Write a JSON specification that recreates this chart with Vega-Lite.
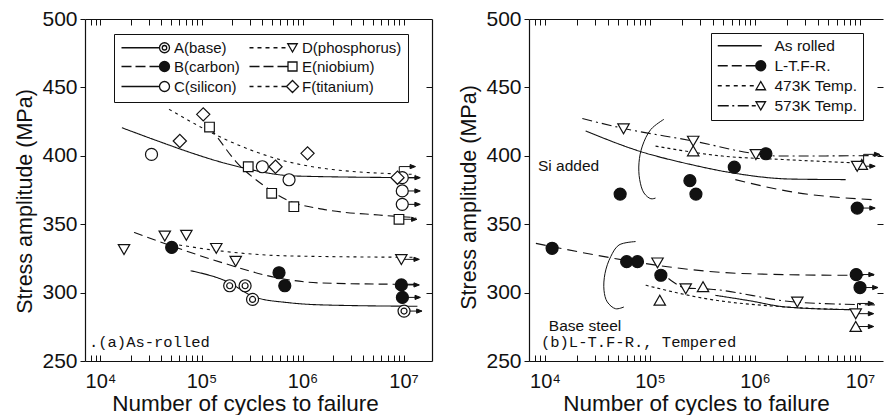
{
  "$schema": "https://vega.github.io/schema/vega-lite/v6.json",
  "padding": {"left": 14, "top": 8, "right": 0, "bottom": 0},
  "spacing": 25,
  "config": {
    "view": {"stroke": null},
    "font": "Liberation Sans",
    "axis": {"domainColor": "#111", "domainWidth": 1.2, "tickColor": "#111", "tickWidth": 1, "labelColor": "#111", "titleColor": "#111", "labelFont": "Liberation Sans", "titleFont": "Liberation Sans", "labelFontSize": 21, "titleFontSize": 21.5, "titleFontWeight": "normal", "grid": false, "labelFlush": false, "labelOverlap": false}
  },
  "resolve": {"scale": {"shape": "independent", "fill": "independent", "strokeDash": "independent"}},
  "datasets": {
    "L_lines": [
      {"s": "A", "c": "A", "n": 78000, "v": 316}, {"s": "A", "c": "A", "n": 174000, "v": 308.5}, {"s": "A", "c": "A", "n": 344000, "v": 296.5}, {"s": "A", "c": "A", "n": 735000, "v": 292.6}, {"s": "A", "c": "A", "n": 1570000, "v": 291}, {"s": "A", "c": "A", "n": 13700000, "v": 290},
      {"s": "B", "c": "B", "n": 21500, "v": 344}, {"s": "B", "c": "B", "n": 51000, "v": 334}, {"s": "B", "c": "B", "n": 175000, "v": 321}, {"s": "B", "c": "B", "n": 547000, "v": 311}, {"s": "B", "c": "B", "n": 1560000, "v": 307}, {"s": "B", "c": "B", "n": 13300000, "v": 306},
      {"s": "C", "c": "C", "n": 16300, "v": 420.5}, {"s": "C", "c": "C", "n": 45500, "v": 408.4}, {"s": "C", "c": "C", "n": 70000, "v": 403.5}, {"s": "C", "c": "C", "n": 187000, "v": 393.8}, {"s": "C", "c": "C", "n": 860000, "v": 385.2}, {"s": "C", "c": "C", "n": 13300000, "v": 384},
      {"s": "D", "c": "D", "n": 60000, "v": 334.8}, {"s": "D", "c": "D", "n": 160000, "v": 330.3}, {"s": "D", "c": "D", "n": 735000, "v": 326.8}, {"s": "D", "c": "D", "n": 13200000, "v": 325.8},
      {"s": "E", "c": "E", "n": 120000, "v": 421}, {"s": "E", "c": "E", "n": 133000, "v": 416.8}, {"s": "E", "c": "E", "n": 218000, "v": 396}, {"s": "E", "c": "E", "n": 400000, "v": 379}, {"s": "E", "c": "E", "n": 735000, "v": 367}, {"s": "E", "c": "E", "n": 1570000, "v": 361}, {"s": "E", "c": "E", "n": 5700000, "v": 356.7}, {"s": "E", "c": "E", "n": 13300000, "v": 354.8},
      {"s": "F", "c": "F", "n": 47700, "v": 434}, {"s": "F", "c": "F", "n": 187000, "v": 410.8}, {"s": "F", "c": "F", "n": 630000, "v": 396.7}, {"s": "F", "c": "F", "n": 1970000, "v": 390}, {"s": "F", "c": "F", "n": 13200000, "v": 386.4}
    ],
    "L_pts": [
      {"s": "A", "n": 190000, "v": 305}, {"s": "A", "n": 270000, "v": 305}, {"s": "A", "n": 320000, "v": 295}, {"s": "A", "n": 10100000, "v": 286.5},
      {"s": "B", "n": 50700, "v": 333}, {"s": "B", "n": 585000, "v": 314.5}, {"s": "B", "n": 667000, "v": 305}, {"s": "B", "n": 9500000, "v": 305.6}, {"s": "B", "n": 9730000, "v": 296.5},
      {"s": "C", "n": 32000, "v": 401}, {"s": "C", "n": 400000, "v": 392}, {"s": "C", "n": 735000, "v": 382.5}, {"s": "C", "n": 9700000, "v": 384}, {"s": "C", "n": 9700000, "v": 374.3}, {"s": "C", "n": 9700000, "v": 364.5},
      {"s": "D", "n": 17100, "v": 331.6}, {"s": "D", "n": 43300, "v": 341.4}, {"s": "D", "n": 70800, "v": 342}, {"s": "D", "n": 140000, "v": 332.4}, {"s": "D", "n": 218000, "v": 323}, {"s": "D", "n": 9500000, "v": 324.3},
      {"s": "E", "n": 120000, "v": 421}, {"s": "E", "n": 290000, "v": 392}, {"s": "E", "n": 495000, "v": 372.6}, {"s": "E", "n": 820000, "v": 362.8}, {"s": "E", "n": 9000000, "v": 353.6},
      {"s": "F", "n": 104000, "v": 430.3}, {"s": "F", "n": 61000, "v": 410.8}, {"s": "F", "n": 540000, "v": 392}, {"s": "F", "n": 1120000, "v": 401.8}, {"s": "F", "n": 8700000, "v": 384}
    ],
    "L_arrows": [
      {"k": "s", "n": 9700000, "v": 384}, {"k": "s", "n": 9700000, "v": 374.3}, {"k": "s", "n": 9700000, "v": 364.5}, {"k": "s", "n": 9000000, "v": 353.6}, {"k": "s", "n": 9500000, "v": 324.3}, {"k": "s", "n": 9500000, "v": 305.6}, {"k": "s", "n": 9730000, "v": 296.5}, {"k": "s", "n": 10100000, "v": 286.5},
      {"k": "b", "n": 8700000, "v": 384}
    ],
    "L_text": [{"t": ".(a)As-rolled", "n": 7690, "v": 260.2}],
    "R_lines": [
      {"s": "AR", "c": "AR1", "n": 24400, "v": 418.2}, {"s": "AR", "c": "AR1", "n": 78500, "v": 403.5}, {"s": "AR", "c": "AR1", "n": 246000, "v": 393.6}, {"s": "AR", "c": "AR1", "n": 610000, "v": 387.5}, {"s": "AR", "c": "AR1", "n": 2200000, "v": 383}, {"s": "AR", "c": "AR1", "n": 7300000, "v": 382.6},
      {"s": "AR", "c": "AR2", "n": 420000, "v": 298}, {"s": "AR", "c": "AR2", "n": 880000, "v": 294.1}, {"s": "AR", "c": "AR2", "n": 1960000, "v": 289.5}, {"s": "AR", "c": "AR2", "n": 7900000, "v": 287.5},
      {"s": "LT", "c": "LT1", "n": 650000, "v": 382.6}, {"s": "LT", "c": "LT1", "n": 2100000, "v": 374}, {"s": "LT", "c": "LT1", "n": 13100000, "v": 367.9},
      {"s": "LT", "c": "LT2", "n": 8200, "v": 336}, {"s": "LT", "c": "LT2", "n": 45700, "v": 325}, {"s": "LT", "c": "LT2", "n": 147000, "v": 318.9}, {"s": "LT", "c": "LT2", "n": 740000, "v": 314}, {"s": "LT", "c": "LT2", "n": 6600000, "v": 312.7}, {"s": "LT", "c": "LT2", "n": 13600000, "v": 312.7},
      {"s": "T473", "c": "T4731", "n": 113000, "v": 407.1}, {"s": "T473", "c": "T4731", "n": 490000, "v": 399.8}, {"s": "T473", "c": "T4731", "n": 1820000, "v": 397.3}, {"s": "T473", "c": "T4731", "n": 8500000, "v": 394.9},
      {"s": "T473", "c": "T4732", "n": 91000, "v": 305.4}, {"s": "T473", "c": "T4732", "n": 339000, "v": 295.6}, {"s": "T473", "c": "T4732", "n": 1950000, "v": 289.5}, {"s": "T473", "c": "T4732", "n": 8500000, "v": 287.5},
      {"s": "T573", "c": "T5731", "n": 22700, "v": 427.2}, {"s": "T573", "c": "T5731", "n": 56000, "v": 420}, {"s": "T573", "c": "T5731", "n": 258000, "v": 410.8}, {"s": "T573", "c": "T5731", "n": 1020000, "v": 401.5}, {"s": "T573", "c": "T5731", "n": 1700000, "v": 399.8}, {"s": "T573", "c": "T5731", "n": 16000000, "v": 400.2},
      {"s": "T573", "c": "T5732", "n": 150000, "v": 310.3}, {"s": "T573", "c": "T5732", "n": 219000, "v": 303.5}, {"s": "T573", "c": "T5732", "n": 380000, "v": 302.5}, {"s": "T573", "c": "T5732", "n": 2500000, "v": 293}, {"s": "T573", "c": "T5732", "n": 15000000, "v": 291}
    ],
    "R_arcs": [
      {"c": "a1", "o": 1, "n": 136000, "v": 426.7}, {"c": "a1", "o": 2, "n": 102000, "v": 419.3}, {"c": "a1", "o": 3, "n": 84600, "v": 407.1}, {"c": "a1", "o": 4, "n": 78600, "v": 394.9}, {"c": "a1", "o": 5, "n": 79800, "v": 382.6}, {"c": "a1", "o": 6, "n": 87700, "v": 372.8}, {"c": "a1", "o": 7, "n": 102000, "v": 368.6}, {"c": "a1", "o": 8, "n": 113000, "v": 369.1},
      {"c": "a2", "o": 1, "n": 73000, "v": 337.3}, {"c": "a2", "o": 2, "n": 50700, "v": 334.8}, {"c": "a2", "o": 3, "n": 42300, "v": 326.3}, {"c": "a2", "o": 4, "n": 37300, "v": 314}, {"c": "a2", "o": 5, "n": 36500, "v": 301.7}, {"c": "a2", "o": 6, "n": 39200, "v": 293.2}, {"c": "a2", "o": 7, "n": 47100, "v": 288.2}, {"c": "a2", "o": 8, "n": 56500, "v": 289.5}
    ],
    "R_pts": [
      {"s": "LT", "n": 52000, "v": 372}, {"s": "LT", "n": 240000, "v": 381.8}, {"s": "LT", "n": 274000, "v": 372}, {"s": "LT", "n": 635000, "v": 391.7}, {"s": "LT", "n": 1270000, "v": 401.5}, {"s": "LT", "n": 9400000, "v": 361.8},
      {"s": "LT", "n": 11700, "v": 332.4}, {"s": "LT", "n": 60000, "v": 322.6}, {"s": "LT", "n": 76000, "v": 322.6}, {"s": "LT", "n": 127000, "v": 312.7}, {"s": "LT", "n": 9200000, "v": 313.2}, {"s": "LT", "n": 10000000, "v": 303.7},
      {"s": "T473", "n": 258000, "v": 403.5}, {"s": "T473", "n": 10400000, "v": 393.6}, {"s": "T473", "n": 124000, "v": 294.3}, {"s": "T473", "n": 320000, "v": 304.2}, {"s": "T473", "n": 9100000, "v": 275.2},
      {"s": "T573", "n": 56000, "v": 419.9}, {"s": "T573", "n": 258000, "v": 410.8}, {"s": "T573", "n": 1020000, "v": 401}, {"s": "T573", "n": 9400000, "v": 392.4}, {"s": "T573", "n": 118000, "v": 321.8}, {"s": "T573", "n": 219000, "v": 302.9}, {"s": "T573", "n": 2530000, "v": 293.2}, {"s": "T573", "n": 9100000, "v": 284.6}
    ],
    "R_arrows": [
      {"k": "s", "n": 9400000, "v": 392.4}, {"k": "s", "n": 9400000, "v": 361.8}, {"k": "s", "n": 9200000, "v": 313.2}, {"k": "s", "n": 10000000, "v": 303.7}, {"k": "s", "n": 9100000, "v": 284.6}, {"k": "s", "n": 9100000, "v": 275.2},
      {"k": "b", "n": 10400000, "v": 393.6}, {"k": "b", "n": 9100000, "v": 284.6}
    ],
    "R_text_mono": [{"t": "(b)L-T.F-R.,  Tempered", "n": 9160, "v": 260.3}],
    "R_text_sans": [{"t": "Si added", "n": 8580, "v": 392.6}, {"t": "Base steel", "n": 10900, "v": 275.7}]
  },
  "hconcat": [
    {
      "width": 347,
      "height": 342,
      "resolve": {"scale": {"shape": "independent", "fill": "independent"}, "axis": {"x": "independent", "y": "independent"}},
      "layer": [
        {
          "data": {"name": "L_lines"},
          "mark": {"type": "line", "interpolate": "monotone", "stroke": "#111", "strokeWidth": 1.1},
          "encoding": {
            "x": {"field": "n", "type": "quantitative", "scale": {"type": "log", "domain": [7030, 19100000], "nice": false},
              "axis": {"title": "Number of cycles to failure", "titleFontSize": 22.5, "labelFontSize": 20, "titlePadding": 1, "titleX": 160, "tickSize": -6, "labelPadding": 16,
                "values": [8000, 9000, 10000, 20000, 30000, 40000, 50000, 60000, 70000, 80000, 90000, 100000, 200000, 300000, 400000, 500000, 600000, 700000, 800000, 900000, 1000000, 2000000, 3000000, 4000000, 5000000, 6000000, 7000000, 8000000, 9000000, 10000000],
                "labelExpr": "datum.value == 10000 ? '10⁴' : datum.value == 100000 ? '10⁵' : datum.value == 1000000 ? '10⁶' : datum.value == 10000000 ? '10⁷' : ''"}},
            "y": {"field": "v", "type": "quantitative", "scale": {"domain": [250, 500], "nice": false, "zero": false},
              "axis": {"title": "Stress amplitude (MPa)", "titleY": 182, "values": [250, 300, 350, 400, 450, 500], "tickSize": 5, "labelPadding": 3, "titlePadding": 5}},
            "strokeDash": {"field": "s", "type": "nominal", "legend": null, "scale": {"domain": ["A", "B", "C", "D", "E", "F"], "range": [[1, 0], [9, 5], [1, 0], [3, 4], [9, 5], [3, 4]]}},
            "detail": {"field": "c"}
          }
        },
        {
          "data": {"name": "L_arrows"},
          "transform": [{"filter": "datum.k == 's'"}],
          "mark": {"type": "point", "shape": "M0,0 H2.75 M3,0 L2.1,-0.35 L2.1,0.35 Z", "size": 144, "filled": true, "fill": "#111", "stroke": "#111", "strokeWidth": 1, "opacity": 1},
          "encoding": {
            "x": {"field": "n", "type": "quantitative", "scale": {"type": "log", "domain": [7030, 19100000], "nice": false}, "axis": null},
            "y": {"field": "v", "type": "quantitative", "scale": {"domain": [250, 500], "nice": false, "zero": false}, "axis": null}
          }
        },
        {
          "data": {"name": "L_arrows"},
          "transform": [{"filter": "datum.k == 'b'"}],
          "mark": {"type": "point", "shape": "M0.3,0 V-1.85 M0.3,-1.85 H2.75 M3,-1.85 L2.1,-2.2 L2.1,-1.5 Z", "size": 144, "filled": true, "fill": "#111", "stroke": "#111", "strokeWidth": 1, "opacity": 1},
          "encoding": {
            "x": {"field": "n", "type": "quantitative", "scale": {"type": "log", "domain": [7030, 19100000], "nice": false}, "axis": null},
            "y": {"field": "v", "type": "quantitative", "scale": {"domain": [250, 500], "nice": false, "zero": false}, "axis": null}
          }
        },
        {
          "data": {"name": "L_pts"},
          "mark": {"type": "point", "size": 144, "filled": true, "stroke": "#111", "strokeWidth": 1.2, "opacity": 1},
          "encoding": {
            "x": {"field": "n", "type": "quantitative", "scale": {"type": "log", "domain": [7030, 19100000], "nice": false},
              "axis": {"orient": "top", "title": null, "labels": false, "tickSize": -6, "values": [8000, 9000, 10000, 20000, 30000, 40000, 50000, 60000, 70000, 80000, 90000, 100000, 200000, 300000, 400000, 500000, 600000, 700000, 800000, 900000, 1000000, 2000000, 3000000, 4000000, 5000000, 6000000, 7000000, 8000000, 9000000, 10000000]}},
            "y": {"field": "v", "type": "quantitative", "scale": {"domain": [250, 500], "nice": false, "zero": false},
              "axis": {"orient": "right", "title": null, "labels": false, "tickSize": -6, "values": [300, 350, 400, 450]}},
            "shape": {"field": "s", "type": "nominal", "legend": null, "scale": {"domain": ["A", "B", "C", "D", "E", "F"], "range": [
              "M1,0 A1,1 0 1,1 -1,0 A1,1 0 1,1 1,0 Z M0.5,0 A0.5,0.5 0 1,1 -0.5,0 A0.5,0.5 0 1,1 0.5,0 Z",
              "M1,0 A1,1 0 1,1 -1,0 A1,1 0 1,1 1,0 Z",
              "M1,0 A1,1 0 1,1 -1,0 A1,1 0 1,1 1,0 Z",
              "M-0.95,-0.8 L0.95,-0.8 L0,0.85 Z",
              "M-0.8,-0.8 H0.8 V0.8 H-0.8 Z",
              "M-1.1,0 L0,-1.1 L1.1,0 L0,1.1 Z"]}},
            "fill": {"field": "s", "type": "nominal", "legend": null, "scale": {"domain": ["A", "B", "C", "D", "E", "F"], "range": ["white", "#111", "white", "white", "white", "white"]}}
          }
        },
        {
          "data": {"name": "L_text"},
          "mark": {"type": "text", "font": "Liberation Mono", "fontSize": 15.5, "align": "left", "baseline": "alphabetic", "color": "#111"},
          "encoding": {
            "x": {"field": "n", "type": "quantitative", "scale": {"type": "log", "domain": [7030, 19100000], "nice": false}, "axis": null},
            "y": {"field": "v", "type": "quantitative", "scale": {"domain": [250, 500], "nice": false, "zero": false}, "axis": null},
            "text": {"field": "t"}
          }
        },
        {
          "data": {"values": []},
          "mark": {"type": "point", "filled": false, "color": "#111", "strokeWidth": 1.3, "opacity": 1},
          "encoding": {
            "shape": {"field": "lg", "type": "nominal",
              "scale": {"domain": ["A(base)", "B(carbon)", "C(silicon)", "D(phosphorus)", "E(niobium)", "F(titanium)"], "range": [
                "M-1.2,0 H6.4 M8.4,0 A1,1 0 1,1 6.4,0 A1,1 0 1,1 8.4,0 Z M7.85,0 A0.45,0.45 0 1,1 6.95,0 A0.45,0.45 0 1,1 7.85,0 Z",
                "M-1.2,0 H0.8 M1.6,0 H3.6 M4.4,0 H6.4 M8.4,0 A1,1 0 1,1 6.4,0 A1,1 0 1,1 8.4,0 Z M8.18,0 A0.78,0.78 0 1,1 6.62,0 A0.78,0.78 0 1,1 8.18,0 Z M7.96,0 A0.56,0.56 0 1,1 6.84,0 A0.56,0.56 0 1,1 7.96,0 Z M7.74,0 A0.34,0.34 0 1,1 7.06,0 A0.34,0.34 0 1,1 7.74,0 Z M7.54,0 A0.14,0.14 0 1,1 7.26,0 A0.14,0.14 0 1,1 7.54,0 Z",
                "M-1.2,0 H6.4 M8.4,0 A1,1 0 1,1 6.4,0 A1,1 0 1,1 8.4,0 Z",
                "M-1.2,0 H-0.4 M0.4,0 H1.2 M2,0 H2.8 M3.6,0 H4.4 M5.2,0 H6 M6.45,-0.8 L8.35,-0.8 L7.4,0.85 Z",
                "M-1.2,0 H0.8 M1.6,0 H3.6 M4.4,0 H6.5 M6.5,-0.9 H8.3 V0.9 H6.5 Z",
                "M-1.2,0 H-0.4 M0.4,0 H1.2 M2,0 H2.8 M3.6,0 H4.4 M5.2,0 H6.2 M6.2,0 L7.4,-1.2 L8.6,0 L7.4,1.2 Z"]},
              "legend": {"orient": "none", "legendX": 29, "legendY": 15, "columns": 2, "columnPadding": 6, "rowPadding": 2, "padding": 6, "title": null, "symbolSize": 100, "symbolStrokeWidth": 1.3, "symbolStrokeColor": "#111", "symbolOpacity": 1, "labelOffset": 39, "labelFontSize": 15, "labelFont": "Liberation Sans", "labelColor": "#111", "strokeColor": "#111", "fillColor": "white"}}
          }
        }
      ]
    },
    {
      "width": 354,
      "height": 342,
      "resolve": {"scale": {"shape": "independent", "fill": "independent"}, "axis": {"x": "independent", "y": "independent"}},
      "layer": [
        {
          "data": {"name": "R_lines"},
          "mark": {"type": "line", "interpolate": "monotone", "stroke": "#111", "strokeWidth": 1.1},
          "encoding": {
            "x": {"field": "n", "type": "quantitative", "scale": {"type": "log", "domain": [7050, 16550000], "nice": false},
              "axis": {"title": "Number of cycles to failure", "titleFontSize": 22.5, "labelFontSize": 20, "titlePadding": 1, "titleX": 167, "tickSize": -6, "labelPadding": 16,
                "values": [8000, 9000, 10000, 20000, 30000, 40000, 50000, 60000, 70000, 80000, 90000, 100000, 200000, 300000, 400000, 500000, 600000, 700000, 800000, 900000, 1000000, 2000000, 3000000, 4000000, 5000000, 6000000, 7000000, 8000000, 9000000, 10000000],
                "labelExpr": "datum.value == 10000 ? '10⁴' : datum.value == 100000 ? '10⁵' : datum.value == 1000000 ? '10⁶' : datum.value == 10000000 ? '10⁷' : ''"}},
            "y": {"field": "v", "type": "quantitative", "scale": {"domain": [250, 500], "nice": false, "zero": false},
              "axis": {"title": "Stress amplitude (MPa)", "titleY": 178, "values": [250, 300, 350, 400, 450, 500], "tickSize": 5, "labelPadding": 3, "titlePadding": 5}},
            "strokeDash": {"field": "s", "type": "nominal", "legend": null, "scale": {"domain": ["AR", "LT", "T473", "T573"], "range": [[1, 0], [10, 6], [3, 3], [10, 4, 2, 4]]}},
            "detail": {"field": "c"}
          }
        },
        {
          "data": {"name": "R_arcs"},
          "mark": {"type": "line", "interpolate": "catmull-rom", "stroke": "#111", "strokeWidth": 1},
          "encoding": {
            "x": {"field": "n", "type": "quantitative", "scale": {"type": "log", "domain": [7050, 16550000], "nice": false}, "axis": null},
            "y": {"field": "v", "type": "quantitative", "scale": {"domain": [250, 500], "nice": false, "zero": false}, "axis": null},
            "order": {"field": "o", "type": "quantitative"},
            "detail": {"field": "c"}
          }
        },
        {
          "data": {"name": "R_arrows"},
          "transform": [{"filter": "datum.k == 's'"}],
          "mark": {"type": "point", "shape": "M0,0 H2.75 M3,0 L2.1,-0.35 L2.1,0.35 Z", "size": 144, "filled": true, "fill": "#111", "stroke": "#111", "strokeWidth": 1, "opacity": 1},
          "encoding": {
            "x": {"field": "n", "type": "quantitative", "scale": {"type": "log", "domain": [7050, 16550000], "nice": false}, "axis": null},
            "y": {"field": "v", "type": "quantitative", "scale": {"domain": [250, 500], "nice": false, "zero": false}, "axis": null}
          }
        },
        {
          "data": {"name": "R_arrows"},
          "transform": [{"filter": "datum.k == 'b'"}],
          "mark": {"type": "point", "shape": "M0.3,0 V-1.7 M0.3,-1.7 H2.75 M3,-1.7 L2.1,-2.05 L2.1,-1.35 Z", "size": 144, "filled": true, "fill": "#111", "stroke": "#111", "strokeWidth": 1, "opacity": 1},
          "encoding": {
            "x": {"field": "n", "type": "quantitative", "scale": {"type": "log", "domain": [7050, 16550000], "nice": false}, "axis": null},
            "y": {"field": "v", "type": "quantitative", "scale": {"domain": [250, 500], "nice": false, "zero": false}, "axis": null}
          }
        },
        {
          "data": {"name": "R_pts"},
          "mark": {"type": "point", "size": 144, "filled": true, "stroke": "#111", "strokeWidth": 1.2, "opacity": 1},
          "encoding": {
            "x": {"field": "n", "type": "quantitative", "scale": {"type": "log", "domain": [7050, 16550000], "nice": false},
              "axis": {"orient": "top", "title": null, "labels": false, "tickSize": -6, "values": [8000, 9000, 10000, 20000, 30000, 40000, 50000, 60000, 70000, 80000, 90000, 100000, 200000, 300000, 400000, 500000, 600000, 700000, 800000, 900000, 1000000, 2000000, 3000000, 4000000, 5000000, 6000000, 7000000, 8000000, 9000000, 10000000]}},
            "y": {"field": "v", "type": "quantitative", "scale": {"domain": [250, 500], "nice": false, "zero": false},
              "axis": {"orient": "right", "title": null, "labels": false, "domain": false, "tickSize": -6, "values": [300, 350, 400, 450]}},
            "shape": {"field": "s", "type": "nominal", "legend": null, "scale": {"domain": ["LT", "T473", "T573"], "range": [
              "M1,0 A1,1 0 1,1 -1,0 A1,1 0 1,1 1,0 Z",
              "M-0.95,0.8 L0.95,0.8 L0,-0.85 Z",
              "M-0.95,-0.8 L0.95,-0.8 L0,0.85 Z"]}},
            "fill": {"field": "s", "type": "nominal", "legend": null, "scale": {"domain": ["LT", "T473", "T573"], "range": ["#111", "white", "white"]}}
          }
        },
        {
          "data": {"name": "R_text_mono"},
          "mark": {"type": "text", "font": "Liberation Mono", "fontSize": 15.5, "align": "left", "baseline": "alphabetic", "color": "#111"},
          "encoding": {
            "x": {"field": "n", "type": "quantitative", "scale": {"type": "log", "domain": [7050, 16550000], "nice": false}, "axis": null},
            "y": {"field": "v", "type": "quantitative", "scale": {"domain": [250, 500], "nice": false, "zero": false}, "axis": null},
            "text": {"field": "t"}
          }
        },
        {
          "data": {"name": "R_text_sans"},
          "mark": {"type": "text", "font": "Liberation Sans", "fontSize": 15.5, "align": "left", "baseline": "middle", "color": "#111"},
          "encoding": {
            "x": {"field": "n", "type": "quantitative", "scale": {"type": "log", "domain": [7050, 16550000], "nice": false}, "axis": null},
            "y": {"field": "v", "type": "quantitative", "scale": {"domain": [250, 500], "nice": false, "zero": false}, "axis": null},
            "text": {"field": "t"}
          }
        },
        {
          "data": {"values": []},
          "mark": {"type": "point", "filled": false, "color": "#111", "strokeWidth": 1.3, "opacity": 1},
          "encoding": {
            "shape": {"field": "lg", "type": "nominal",
              "scale": {"domain": ["As rolled", "L-T.F-R.", "473K Temp.", "573K Temp."], "range": [
                "M-1.2,0 H7.6",
                "M-1.2,0 H0.8 M1.6,0 H3.6 M4.4,0 H6.4 M8.4,0 A1,1 0 1,1 6.4,0 A1,1 0 1,1 8.4,0 Z M8.18,0 A0.78,0.78 0 1,1 6.62,0 A0.78,0.78 0 1,1 8.18,0 Z M7.96,0 A0.56,0.56 0 1,1 6.84,0 A0.56,0.56 0 1,1 7.96,0 Z M7.74,0 A0.34,0.34 0 1,1 7.06,0 A0.34,0.34 0 1,1 7.74,0 Z M7.54,0 A0.14,0.14 0 1,1 7.26,0 A0.14,0.14 0 1,1 7.54,0 Z",
                "M-1.2,0 H-0.4 M0.4,0 H1.2 M2,0 H2.8 M3.6,0 H4.4 M5.2,0 H6 M6.45,0.8 L8.35,0.8 L7.4,-0.85 Z",
                "M-1.2,0 H1 M1.7,0 H2.1 M2.8,0 H5 M5.6,0 H6.4 M6.45,-0.8 L8.35,-0.8 L7.4,0.85 Z"]},
              "legend": {"orient": "none", "legendX": 182, "legendY": 14, "columns": 1, "rowPadding": 3, "padding": 5, "title": null, "symbolSize": 100, "symbolStrokeWidth": 1.3, "symbolStrokeColor": "#111", "symbolOpacity": 1, "labelOffset": 43, "labelFontSize": 15.5, "labelFont": "Liberation Sans", "labelColor": "#111", "strokeColor": "#111", "fillColor": "white"}}
          }
        }
      ]
    }
  ]
}
